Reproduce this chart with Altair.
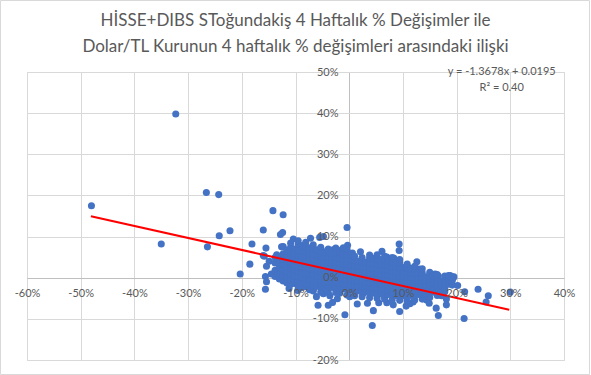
import altair as alt
import pandas as pd

TITLE_LINES = [
    "HİSSE+DIBS SToğundakiş 4 Haftalık % Değişimler ile",
    "Dolar/TL Kurunun 4 haftalık % değişimleri  arasındaki ilişki",
]

# Scattered points (x = Dolar/TL 4w % change, y = HİSSE+DIBS 4w % change), in %
outlier_x = [-48.0, -35.0, -32.3, -26.6, -24.3, -26.4, -24.2, -22.2, -20.3, -18.5, -18.1,
             -16.0, -14.2, -12.3, -12.4, -12.8, -15.5, -16.0, -15.8, -15.4, -15.6, -15.4,
             -15.6, -14.5, -13.4, -12.6, -14.9, -13.5, -12.6, -5.5, -4.8, -0.4, -0.3, 0.6,
             -3.0, -1.4, 9.3, 9.3, 8.3, 7.0, 13.0, 16.3, 18.8, 19.1, 19.5, 21.5, 24.0, 25.9,
             25.5, 21.4, 16.6, 16.2, 18.1, 18.1, 9.4, 8.2, 11.9, 11.3, 14.4, 17.5, 17.2,
             30.0, -5.8, -3.9, -3.1, -6.1, -0.8, 1.5, 4.3, 4.5, 5.5, 7.0, -3.6, -4.8, 0.1,
             2.6, 5.1, 6.6, -10.1, -9.2, -7.9, -6.7, 16.0, 16.6,
             -11.2, -10.4, -9.6, -7.2, -2.2, 2.1, 3.4, 6.1, 10.6, 12.6, 14.9, 20.2]
outlier_y = [17.5, 8.2, 39.8, 20.7, 20.2, 7.5, 10.2, 11.4, 0.9, 3.3, 8.2,
             11.6, 16.3, 15.3, 11.0, 10.5, 7.2, 5.4, 5.2, 2.8, 0.3, -1.0,
             -2.8, 0.9, 0.7, -0.2, 4.0, 5.6, 7.5, 9.8, 10.0, 12.2, 7.9, 6.0,
             6.8, 6.8, 8.2, 6.6, 4.8, 5.0, 2.1, 0.5, 0.5, -0.6, 0.2, -3.4, -2.8, -4.4,
             -5.9, -9.9, -9.2, -7.4, -6.6, -5.2, -8.2, -6.6, -5.9, -6.3, -5.4, -3.2, -4.4,
             -3.5, -6.7, -6.7, -6.0, -4.6, -9.0, -6.4, -11.6, -8.0, -6.1, -6.1, -4.4, -3.9, -4.6,
             -3.8, -4.0, -4.8, -1.4, -2.0, -2.2, -3.0, 0.9, 0.4,
             -2.6, 9.4, -3.1, 9.6, -5.1, 6.3, -6.2, 6.4, -6.9, 3.9, -6.2, -1.9]

# Dense cloud, read column by column: (x, [y values])
cloud_columns = [
    (-13.8, [0.3, 1.8, 3.6, 4.9]),
    (-13.0, [-0.3, 0.9, 2.4, 3.7, 5.1]),
    (-12.3, [-0.8, 0.5, 1.9, 3.2, 4.4, 5.8, 7.6]),
    (-11.6, [-1.3, 0.1, 1.4, 2.8, 4.0, 5.3, 6.7]),
    (-10.9, [-1.6, -0.4, 1.0, 2.3, 3.6, 4.9, 6.1, 7.4, 8.4]),
    (-10.2, [-0.8, 0.6, 1.9, 3.1, 4.4, 5.7, 7.0]),
    (-9.5, [-2.2, -0.9, 0.3, 1.6, 2.8, 4.1, 5.5, 6.8, 8.1, 9.0]),
    (-8.8, [-2.4, -1.1, 0.2, 1.4, 2.7, 3.9, 5.2, 6.5, 7.8]),
    (-8.1, [-1.3, 0.0, 1.2, 2.5, 3.8, 5.0, 6.3, 7.6, 8.6]),
    (-7.4, [-2.9, -1.6, -0.3, 1.0, 2.2, 3.5, 4.8, 6.0, 7.3]),
    (-6.7, [-3.2, -1.9, -0.6, 0.8, 2.0, 3.3, 4.6, 5.8, 7.1, 8.0]),
    (-6.0, [-2.1, -0.8, 0.5, 1.7, 3.0, 4.3, 5.6, 6.8]),
    (-5.3, [-3.5, -2.3, -1.0, 0.3, 1.5, 2.8, 4.1, 5.3, 6.5, 7.4]),
    (-4.6, [-2.4, -1.1, 0.2, 1.4, 2.6, 3.9, 5.1, 6.3]),
    (-3.9, [-3.6, -2.3, -1.0, 0.1, 1.3, 2.5, 3.8, 5.0, 6.1, 7.0]),
    (-3.2, [-2.4, -1.2, 0.0, 1.2, 2.4, 3.7, 4.9, 6.0]),
    (-2.5, [-3.6, -2.4, -1.1, 0.1, 1.3, 2.5, 3.7, 4.9, 6.1, 7.2]),
    (-1.8, [-3.8, -2.6, -1.3, -0.1, 1.1, 2.3, 3.5, 4.7, 5.9]),
    (-1.1, [-2.7, -1.5, -0.2, 1.0, 2.2, 3.4, 4.6, 5.8, 7.3]),
    (-0.4, [-4.2, -2.9, -1.6, -0.4, 0.8, 2.0, 3.3, 4.5, 5.7, 6.9]),
    (0.3, [-3.0, -1.8, -0.5, 0.7, 1.9, 3.1, 4.3, 5.5]),
    (1.0, [-4.4, -3.1, -1.9, -0.6, 0.6, 1.8, 3.0, 4.2, 5.2]),
    (1.7, [-3.2, -2.0, -0.8, 0.4, 1.6, 2.8, 4.0]),
    (2.4, [-4.6, -3.3, -2.1, -0.9, 0.3, 1.5, 2.7, 3.9, 4.9]),
    (3.1, [-3.5, -2.3, -1.0, 0.2, 1.4, 2.6, 3.8]),
    (3.8, [-4.9, -3.6, -2.4, -1.2, 0.0, 1.2, 2.4, 3.6, 4.8, 5.5]),
    (4.5, [-3.7, -2.5, -1.3, -0.1, 1.1, 2.3, 3.5, 4.7]),
    (5.2, [-5.0, -3.8, -2.6, -1.4, -0.2, 1.0, 2.2, 3.4, 4.6, 5.6]),
    (5.9, [-3.9, -2.7, -1.5, -0.3, 0.9, 2.1, 3.3, 4.4]),
    (6.6, [-5.2, -4.0, -2.8, -1.6, -0.4, 0.8, 2.0, 3.2, 4.3, 5.2]),
    (7.3, [-4.1, -2.9, -1.7, -0.5, 0.7, 1.9, 3.0, 4.1]),
    (8.0, [-5.4, -4.2, -3.0, -1.8, -0.6, 0.6, 1.7, 2.8, 3.9, 4.9]),
    (8.7, [-4.3, -3.1, -1.9, -0.7, 0.5, 1.6, 2.7, 3.8]),
    (9.4, [-5.5, -4.3, -3.1, -1.9, -0.8, 0.4, 1.5, 2.6, 3.6, 4.4]),
    (10.1, [-4.4, -3.2, -2.0, -0.9, 0.3, 1.4, 2.5]),
    (10.8, [-5.6, -4.4, -3.2, -2.1, -1.0, 0.2, 1.3, 2.4, 3.3]),
    (11.5, [-4.3, -3.2, -2.1, -1.0, 0.1, 1.2, 2.3]),
    (12.2, [-5.4, -4.2, -3.1, -2.0, -1.0, 0.0, 1.1, 2.2, 2.8]),
    (12.9, [-4.1, -3.0, -1.9, -0.9, 0.1, 1.1]),
    (13.6, [-5.2, -4.0, -2.9, -1.9, -0.8, 0.2, 1.2, 2.2]),
    (14.3, [-3.9, -2.8, -1.8, -0.8, 0.2]),
    (15.0, [-4.8, -3.7, -2.7, -1.7, -0.7, 0.3, 1.3]),
    (15.7, [-3.5, -2.5, -1.5, -0.5, 0.5]),
    (16.4, [-4.3, -3.2, -2.2, -1.2, -0.2, 0.8]),
    (17.1, [-2.9, -1.9, -0.9]),
    (17.8, [-3.4, -2.5, -1.4, -0.4, 0.4]),
    (18.5, [-1.6, -0.6, 0.5]),
    (19.2, [-1.8, -0.7, 0.2]),
]

# Trendline endpoints as drawn in the chart
trend_x = [-48.1, 29.8]
trend_y = [14.95, -7.8]

x_ticks = [-60, -50, -40, -30, -20, -10, 0, 10, 20, 30, 40]
y_ticks = [-20, -10, 0, 10, 20, 30, 40, 50]

eq_labels = ["y = -1.3678x + 0.0195", "R² = 0.40"]
eq_x = [28.4, 28.4]
eq_y = [50.0, 46.1]

# ---- build tables ----
px, py = list(outlier_x), list(outlier_y)
for cx, ys in cloud_columns:
    for yv in ys:
        px.append(cx)
        py.append(yv)
points = pd.DataFrame({"x": px, "y": py})
trend = pd.DataFrame({"x": trend_x, "y": trend_y})
eq = pd.DataFrame({"x": eq_x, "y": eq_y, "t": eq_labels})

FONT = "Lato"
GRAY_TXT = "#595959"
xs = alt.Scale(domain=[-60, 40], nice=False, zero=False)
ys_ = alt.Scale(domain=[-20, 50], nice=False, zero=False)

grid_color = {"condition": {"test": "datum.value === 0", "value": "#bfbfbf"}, "value": "#d9d9d9"}

pts = alt.Chart(points).mark_circle(size=50, color="#4472C4", opacity=1).encode(
    x=alt.X("x:Q", scale=xs, axis=alt.Axis(values=x_ticks, grid=True, gridColor=grid_color,
                                          labels=False, ticks=False, domain=False, title=None,
                                          orient="bottom")),
    y=alt.Y("y:Q", scale=ys_, axis=alt.Axis(values=y_ticks, grid=True, gridColor=grid_color,
                                           labels=False, ticks=False, domain=False, title=None,
                                           orient="left")),
)

line = alt.Chart(trend).mark_line(color="#FF0000", strokeWidth=2).encode(
    x=alt.X("x:Q", scale=xs, axis=alt.Axis(values=x_ticks, grid=False, ticks=False, domain=False,
                                          title=None, orient="bottom", offset=-82, zindex=1,
                                          labelExpr="datum.value + '%'", labelFont=FONT,
                                          labelFontSize=11, labelColor=GRAY_TXT, labelPadding=9,
                                          labelOverlap=False, labelFlush=False)),
    y=alt.Y("y:Q", scale=ys_, axis=alt.Axis(values=y_ticks, grid=False, ticks=False, domain=False,
                                           title=None, orient="left", offset=-322, zindex=1,
                                           labelExpr="datum.value + '%'", labelFont=FONT,
                                           labelFontSize=11, labelColor=GRAY_TXT, labelPadding=11,
                                           labelOverlap=False, labelFlush=False)),
)

eq_text = alt.Chart(eq).mark_text(font=FONT, fontSize=11, color=GRAY_TXT, align="center",
                                  baseline="middle").encode(
    x=alt.X("x:Q", scale=xs, axis=None),
    y=alt.Y("y:Q", scale=ys_, axis=None),
    text="t:N",
)

border = alt.Chart(pd.DataFrame({"a": [0]})).mark_rect(
    fill=None, fillOpacity=0, stroke="#d9d9d9", strokeWidth=1
).encode(
    x=alt.value(-26.5), x2=alt.value(562.5), y=alt.value(-71.5), y2=alt.value(302.5)
)

chart = alt.layer(pts, line, eq_text, border).resolve_axis(
    x="independent", y="independent"
).properties(
    width=537,
    height=288,
    padding={"left": 27, "top": 72, "right": 27, "bottom": 15},
    autosize=alt.AutoSizeParams(type="none"),
    title=alt.TitleParams(text=TITLE_LINES, font=FONT, fontSize=17, fontWeight="normal",
                          color=GRAY_TXT, anchor="middle", lineHeight=26, offset=-56),
).configure_view(stroke=None).configure(background="white")

chart.save("out.html", embed_options={"renderer": "svg", "actions": False})
